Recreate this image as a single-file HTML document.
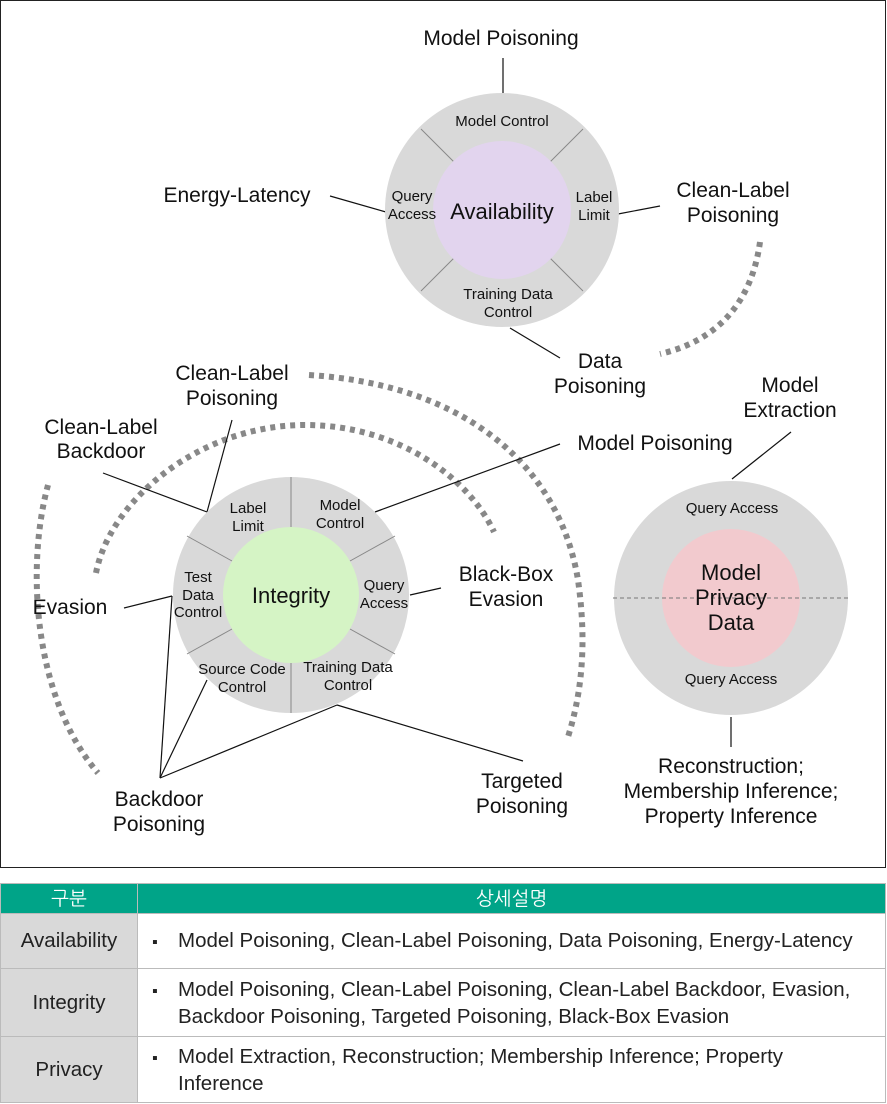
<!DOCTYPE html>
<html><head><meta charset="utf-8"><style>
body{margin:0;background:#fff;width:887px;height:1104px;overflow:hidden;font-family:"Liberation Sans","NanumGothic",sans-serif;}
svg{position:absolute;left:0;top:0}
table{position:absolute;left:0;top:883px;width:886px;border-collapse:collapse;font-family:"Liberation Sans","NanumGothic",sans-serif;font-size:20.5px;color:#222}
td,th{border:1px solid #bbb;padding:0}
th{background:#00a488;color:#fff;font-weight:normal;height:29px;font-size:19px;font-family:"Liberation Sans","NanumGothic","Noto Sans CJK KR",sans-serif}
td.k{background:#d9d9d9;text-align:center;width:136px}
td.v{padding-left:14px;line-height:25px}
.b{display:inline-block;width:26px;font-size:16px}
</style></head><body>
<svg width="887" height="870" viewBox="0 0 887 870" font-family="Liberation Sans, NanumGothic, sans-serif" fill="#111">
<rect x="0.5" y="0.5" width="885" height="867" fill="#fff" stroke="#222"/>
<g fill="none" stroke="#888" stroke-width="6" stroke-dasharray="5 5">
<path d="M760,242 C752,300 720,340 660,354"/>
<path d="M309,375 C470,385 560,470 578,580 C588,650 580,700 567,740"/>
<path d="M48,485 C25,570 35,700 98,773"/>
<path d="M96,573 C110,500 200,425 305,425 C400,425 470,480 494,532"/>
</g>
<g stroke="#111" stroke-width="1.2">
<line x1="503" y1="58" x2="503" y2="93"/>
<line x1="330" y1="196" x2="386" y2="212"/>
<line x1="618" y1="214" x2="660" y2="206"/>
<line x1="510" y1="328" x2="560" y2="358"/>
<line x1="103" y1="473" x2="207" y2="512"/>
<line x1="232" y1="420" x2="207" y2="512"/>
<line x1="375" y1="512" x2="560" y2="444"/>
<line x1="410" y1="595" x2="441" y2="588"/>
<line x1="124" y1="608" x2="172" y2="596"/>
<line x1="160" y1="778" x2="172" y2="596"/>
<line x1="160" y1="778" x2="207" y2="680"/>
<line x1="160" y1="778" x2="337" y2="705"/>
<line x1="337" y1="705" x2="523" y2="761"/>
<line x1="732" y1="479" x2="791" y2="432"/>
<line x1="731" y1="717" x2="731" y2="747"/>
</g>
<circle cx="502" cy="210" r="117" fill="#d9d9d9"/>
<g stroke="#888" stroke-width="1"><line x1="421" y1="129" x2="455" y2="163"/><line x1="583" y1="129" x2="549" y2="163"/><line x1="421" y1="291" x2="455" y2="257"/><line x1="583" y1="291" x2="549" y2="257"/></g>
<circle cx="502" cy="210" r="69" fill="#e2d4ee"/>
<g font-size="15" text-anchor="middle">
<text x="502" y="126">Model Control</text>
<text x="412" y="201">Query</text><text x="412" y="219">Access</text>
<text x="594" y="202">Label</text><text x="594" y="220">Limit</text>
<text x="508" y="299">Training Data</text><text x="508" y="317">Control</text>
</g>
<text x="502" y="219" font-size="22" text-anchor="middle">Availability</text>
<circle cx="291" cy="595" r="118" fill="#d9d9d9"/>
<g stroke="#888" stroke-width="1"><line x1="291" y1="477" x2="291" y2="528"/><line x1="291" y1="662" x2="291" y2="713"/>
<line x1="187" y1="536" x2="232" y2="561"/><line x1="395" y1="536" x2="350" y2="561"/><line x1="187" y1="654" x2="232" y2="629"/><line x1="395" y1="654" x2="350" y2="629"/></g>
<circle cx="291" cy="595" r="68" fill="#d5f4c5"/>
<g font-size="15" text-anchor="middle">
<text x="248" y="513">Label</text><text x="248" y="531">Limit</text>
<text x="340" y="510">Model</text><text x="340" y="528">Control</text>
<text x="198" y="582">Test</text><text x="198" y="600">Data</text><text x="198" y="617">Control</text>
<text x="384" y="590">Query</text><text x="384" y="608">Access</text>
<text x="242" y="674">Source Code</text><text x="242" y="692">Control</text>
<text x="348" y="672">Training Data</text><text x="348" y="690">Control</text>
</g>
<text x="291" y="603" font-size="22" text-anchor="middle">Integrity</text>
<circle cx="731" cy="598" r="117" fill="#d9d9d9"/>
<circle cx="731" cy="598" r="69" fill="#f2cace"/>
<line x1="613" y1="598" x2="849" y2="598" stroke="#777" stroke-dasharray="4 3"/>
<g font-size="15" text-anchor="middle"><text x="732" y="513">Query Access</text><text x="731" y="684">Query Access</text></g>
<g font-size="22" text-anchor="middle"><text x="731" y="580">Model</text><text x="731" y="605">Privacy</text><text x="731" y="630">Data</text></g>
<g font-size="21" text-anchor="middle">
<text x="501" y="45">Model Poisoning</text>
<text x="237" y="202">Energy-Latency</text>
<text x="733" y="197">Clean-Label</text><text x="733" y="222">Poisoning</text>
<text x="600" y="368">Data</text><text x="600" y="393">Poisoning</text>
<text x="232" y="380">Clean-Label</text><text x="232" y="405">Poisoning</text>
<text x="101" y="434">Clean-Label</text><text x="101" y="458">Backdoor</text>
<text x="655" y="450">Model Poisoning</text>
<text x="790" y="392">Model</text><text x="790" y="417">Extraction</text>
<text x="506" y="581">Black-Box</text><text x="506" y="606">Evasion</text>
<text x="70" y="614">Evasion</text>
<text x="159" y="806">Backdoor</text><text x="159" y="831">Poisoning</text>
<text x="522" y="788">Targeted</text><text x="522" y="813">Poisoning</text>
<text x="731" y="773">Reconstruction;</text><text x="731" y="798">Membership Inference;</text><text x="731" y="823">Property Inference</text>
</g>
</svg>
<table>
<tr><th>구분</th><th>상세설명</th></tr>
<tr style="height:55px"><td class="k">Availability</td><td class="v"><span class="b">▪</span>Model Poisoning, Clean-Label Poisoning, Data Poisoning, Energy-Latency</td></tr>
<tr style="height:68px"><td class="k">Integrity</td><td class="v"><span class="b">▪</span>Model Poisoning, Clean-Label Poisoning, Clean-Label Backdoor, Evasion,<br><span class="b"></span>Backdoor Poisoning, Targeted Poisoning, Black-Box Evasion</td></tr>
<tr style="height:66px"><td class="k">Privacy</td><td class="v"><span class="b">▪</span>Model Extraction, Reconstruction; Membership Inference; Property<br><span class="b"></span>Inference</td></tr>
</table>
</body></html>
